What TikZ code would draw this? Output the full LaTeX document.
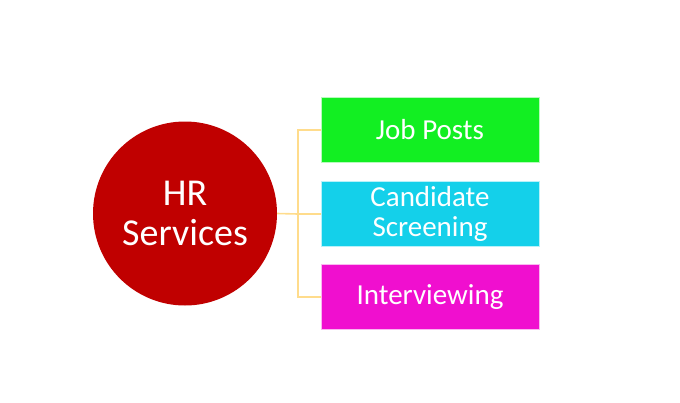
\documentclass[tikz,border=0pt]{standalone}
\usepackage{fontspec}
\setmainfont{Carlito}
\definecolor{hrred}{HTML}{C00000}
\definecolor{jobgreen}{HTML}{12EF22}
\definecolor{candcyan}{HTML}{14D0EA}
\definecolor{intmag}{HTML}{F00FCF}
\definecolor{linkc}{HTML}{FFDC8C}
\begin{document}
\begin{tikzpicture}[x=1pt,y=-1pt,
  hub/.style={circle,fill=hrred,draw=none,minimum size=184pt,inner sep=0pt,
    text=white,font=\fontsize{38}{40}\selectfont,align=center},
  item/.style={rectangle,draw=white!70!#1,line width=0.6pt,fill=#1,minimum width=218pt,minimum height=65pt,
    inner sep=0pt,text=white,font=\fontsize{29}{30}\selectfont,align=center},
  link/.style={draw=linkc,line width=1.6pt}]
\useasboundingbox (0,0) rectangle (680,402);
\node[hub] (hr) at (185,213.5) {HR\\Services};
\node[item=jobgreen] (job) at (430,130) {Job Posts};
\node[item=candcyan] (cand) at (430,214) {Candidate\\Screening};
\node[item=intmag] (int) at (430,297) {Interviewing};
\coordinate (j) at (298,214);
\draw[link] (hr.east) -- (j);
\draw[link] (j) |- (job.west);
\draw[link] (j) -- (cand.west);
\draw[link] (j) |- (int.west);
\end{tikzpicture}
\end{document}
